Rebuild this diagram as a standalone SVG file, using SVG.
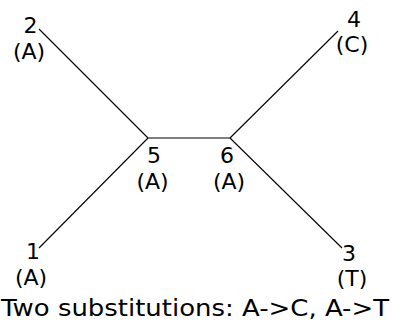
<svg xmlns="http://www.w3.org/2000/svg" width="394" height="325" viewBox="0 0 394 325">
<style>
text{font-family:"DejaVu Sans",Verdana,sans-serif;font-size:22px;fill:#000;text-anchor:middle}
.e{stroke:#000;stroke-width:1.1;fill:none}
</style>
<rect width="394" height="325" fill="#fff"/>
<g id="connectors">
<line class="e" x1="39" y1="29" x2="148" y2="138"/>
<line class="e" x1="338" y1="31" x2="230" y2="138"/>
<line class="e" x1="148" y1="138" x2="230" y2="138"/>
<line class="e" x1="39" y1="248" x2="148" y2="138"/>
<line class="e" x1="342" y1="248" x2="230" y2="138"/>
</g>
<g id="n2"><text x="30.5" y="33">2</text><text x="29" y="59">(A)</text></g>
<g id="n4"><text x="354" y="27">4</text><text x="352" y="52">(C)</text></g>
<g id="n5"><text x="154" y="163">5</text><text x="152.5" y="189">(A)</text></g>
<g id="n6"><text x="227" y="163">6</text><text x="229" y="189">(A)</text></g>
<g id="n1"><text x="33" y="259">1</text><text x="31" y="285">(A)</text></g>
<g id="n3"><text x="349" y="261">3</text><text x="352" y="286">(T)</text></g>
<text x="1" y="316" style="text-anchor:start;font-size:23px" textLength="388" lengthAdjust="spacingAndGlyphs">Two substitutions: A-&gt;C, A-&gt;T</text>
</svg>
